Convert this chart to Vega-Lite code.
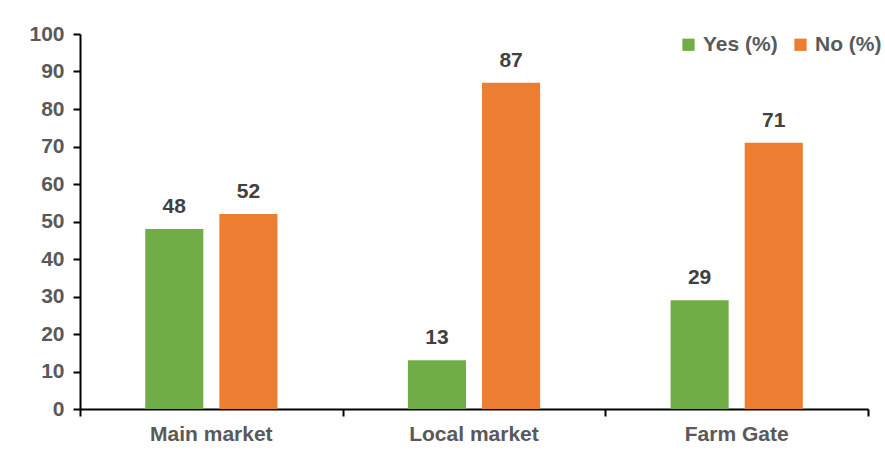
{
  "$schema": "https://vega.github.io/schema/vega-lite/v6.json",
  "autosize": "none",
  "padding": {"left": 80, "top": 34, "right": 17, "bottom": 47},
  "width": 788,
  "height": 375,
  "background": "white",
  "config": {
    "view": {"stroke": null},
    "font": "Liberation Sans"
  },
  "datasets": {
    "answers": [
      {"market": "Main market", "answer": "Yes (%)", "pct": 48},
      {"market": "Main market", "answer": "No (%)", "pct": 52},
      {"market": "Local market", "answer": "Yes (%)", "pct": 13},
      {"market": "Local market", "answer": "No (%)", "pct": 87},
      {"market": "Farm Gate", "answer": "Yes (%)", "pct": 29},
      {"market": "Farm Gate", "answer": "No (%)", "pct": 71}
    ],
    "edges": [{"pos": 0}, {"pos": 1}, {"pos": 2}, {"pos": 3}]
  },
  "layer": [
    {
      "data": {"name": "answers"},
      "encoding": {
        "x": {
          "field": "market", "type": "nominal",
          "sort": ["Main market", "Local market", "Farm Gate"],
          "scale": {"paddingInner": 0, "paddingOuter": 0},
          "axis": {
            "title": null, "domain": false, "ticks": false,
            "labelAngle": 0, "labelFontSize": 21, "labelFontWeight": "bold",
            "labelColor": "#595959", "labelPadding": 14
          }
        },
        "xOffset": {
          "field": "answer", "type": "nominal",
          "sort": ["Yes (%)", "No (%)"],
          "scale": {"paddingInner": 0.216, "paddingOuter": 0.88}
        },
        "y": {
          "field": "pct", "type": "quantitative",
          "scale": {"domain": [0, 100], "nice": false},
          "axis": {
            "title": null, "values": [0, 10, 20, 30, 40, 50, 60, 70, 80, 90, 100],
            "grid": false, "domainColor": "#000000", "domainWidth": 2,
            "tickColor": "#000000", "tickWidth": 2, "tickSize": 7,
            "labelFontSize": 21, "labelFontWeight": "bold",
            "labelColor": "#595959", "labelPadding": 9
          }
        }
      },
      "layer": [
        {
          "mark": {"type": "bar"},
          "encoding": {
            "color": {
              "field": "answer", "type": "nominal",
              "sort": ["Yes (%)", "No (%)"],
              "scale": {"domain": ["Yes (%)", "No (%)"], "range": ["#70AD47", "#ED7D31"]},
              "legend": {
                "title": null, "orient": "none", "direction": "horizontal",
                "legendX": 598, "legendY": 0, "padding": 0,
                "symbolType": "square", "symbolSize": 150, "symbolStrokeWidth": 0,
                "labelFontSize": 21, "labelFontWeight": "bold",
                "labelColor": "#595959", "labelOffset": 4, "columnPadding": 12
              }
            }
          }
        },
        {
          "mark": {
            "type": "text", "baseline": "alphabetic", "dy": -16,
            "fontSize": 21, "fontWeight": "bold", "color": "#404040"
          },
          "encoding": {"text": {"field": "pct", "type": "quantitative"}}
        }
      ]
    },
    {
      "data": {"name": "edges"},
      "mark": {"type": "tick", "opacity": 0},
      "encoding": {
        "x": {
          "field": "pos", "type": "quantitative",
          "scale": {"domain": [0, 3], "nice": false, "zero": false},
          "axis": {
            "orient": "bottom", "title": null, "labels": false, "grid": false,
            "values": [0, 1, 2, 3],
            "domainColor": "#000000", "domainWidth": 2,
            "tickColor": "#000000", "tickWidth": 2, "tickSize": 7
          }
        }
      }
    }
  ],
  "resolve": {"scale": {"x": "independent"}, "axis": {"x": "independent"}}
}
